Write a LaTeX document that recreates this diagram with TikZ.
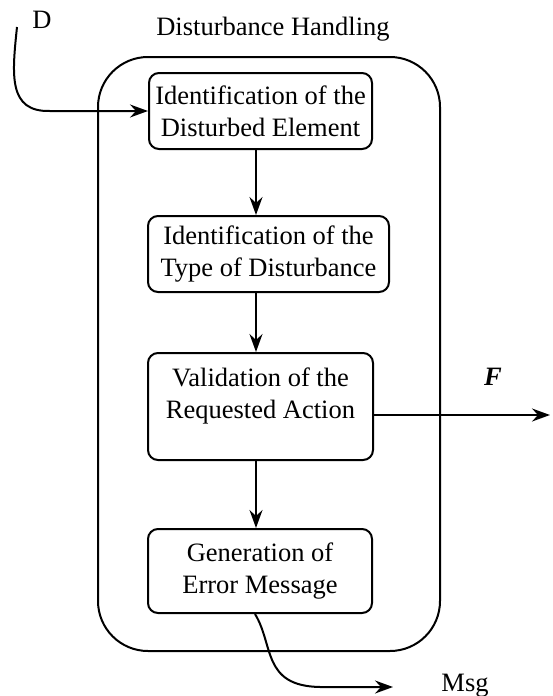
\documentclass[tikz,border=0pt]{standalone}
\usepackage{fontspec}
\setmainfont{Liberation Serif}
\newfontfamily\timesfont{Liberation Serif}
\usetikzlibrary{arrows.meta,positioning}
\newcommand{\diagfont}{\timesfont\fontsize{26.5}{32}\selectfont}

\begin{document}
\begin{tikzpicture}[x=1pt,y=-1pt,
  every node/.style={font=\diagfont},
  procbox/.style={draw, line width=2pt, rounded corners=10pt, align=center, inner sep=0pt},
  flow/.style={-{Stealth[length=18pt,width=13pt,inset=6pt]}, line width=2pt}]
\useasboundingbox (0,0) rectangle (552,696);

% Outer frame
\node[draw, line width=2pt, rounded corners=50pt, minimum width=342pt, minimum height=594pt] (frame) at (269,354) {};
\node[anchor=base] (title) at (273,35) {Disturbance Handling};

% Steps
\node[procbox, minimum width=223pt, minimum height=76pt] (ident) at (260.5,111) {Identification of the\\Disturbed Element};
\node[procbox, minimum width=241pt, minimum height=76pt] (typ) at (268.5,254) {Identification of the\\Type of Disturbance};
\node[procbox, minimum width=225pt, minimum height=107pt] (valid) at (260.5,406.5) {Validation of the\\Requested Action\\[-6pt]\mbox{}};
\node[procbox, minimum width=224pt, minimum height=84pt] (errmsg) at (260,571) {Generation of\\Error Message};

% Main flow
\coordinate (spine) at (256,0);
\draw[flow] (ident.south -| spine) -- (typ.north -| spine);
\draw[flow] (typ.south -| spine) -- (valid.north -| spine);
\draw[flow] (valid.south -| spine) -- (errmsg.north -| spine);

% Input D
\coordinate (dtop) at (17,27);
\node[anchor=base] (dlabel) at (42,28) {D};
\draw[flow] (dtop) .. controls (12,75) and (8,112) .. (50,111) -- (ident.west);

% Output F
\coordinate (fend) at (550,415);
\node[anchor=base, font=\diagfont\bfseries\itshape] (flabel) at (493,385) {F};
\draw[flow] ([yshift=-8.5pt]valid.east) -- (fend);

% Output Msg
\coordinate (msgend) at (393,687);
\node[anchor=base] (msglabel) at (465,691) {Msg};
\draw[flow] ([xshift=-5pt]errmsg.south) .. controls (274,645) and (262,686) .. (320,687) -- (msgend);
\end{tikzpicture}
\end{document}
